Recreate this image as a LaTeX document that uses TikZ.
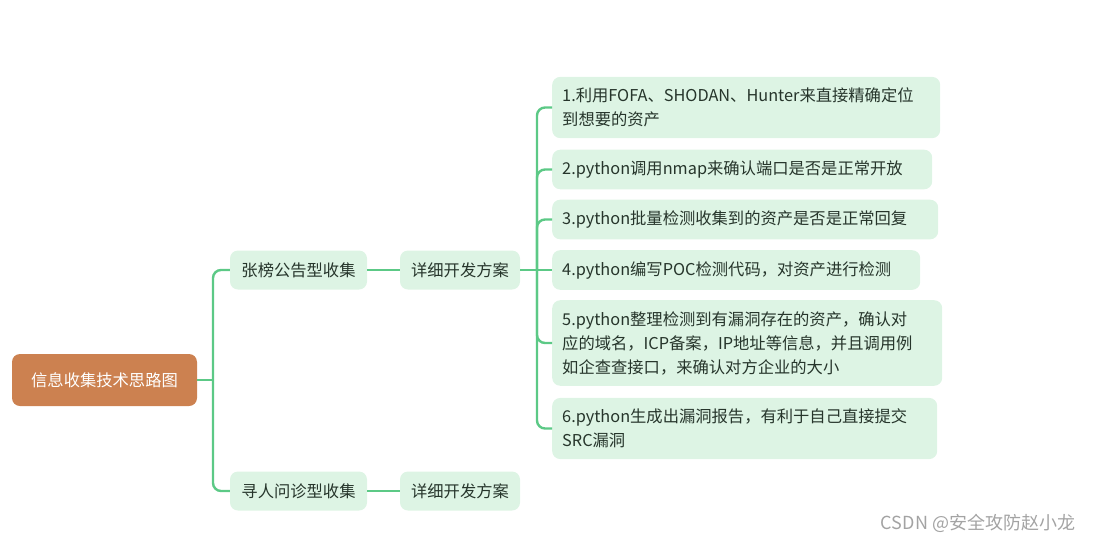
\documentclass[tikz,border=0pt]{standalone}
\usepackage{fontspec}
\setmainfont{Noto Sans CJK SC}
\usetikzlibrary{calc}
\definecolor{rootbrown}{HTML}{CC8150}
\definecolor{leafgreen}{HTML}{DDF4E4}
\definecolor{linkgreen}{HTML}{5CC986}
\definecolor{ink}{HTML}{26352B}
\definecolor{markgray}{HTML}{A3A3A3}
\newcommand{\mapfont}{\fontsize{16.3pt}{24pt}\selectfont}

\begin{document}
\begin{tikzpicture}[
    x=1pt, y=-1pt,
    every node/.style={font=\mapfont, align=center},
    link/.style={line width=2.4pt, linkgreen, rounded corners=8pt},
    % Root topic
    rootbox/.style={rectangle, rounded corners=8pt, fill=rootbrown, text=white,
                    minimum width=185pt, minimum height=52pt, inner sep=0pt},
    % Branch topics
    subbox/.style={rectangle, rounded corners=8pt, fill=leafgreen, text=ink,
                   minimum width=137pt, minimum height=39pt, inner sep=0pt},
    planbox/.style={subbox, minimum width=120pt},
    % Leaf topics
    leafbox/.style={rectangle, rounded corners=8pt, fill=leafgreen, text=ink,
                    anchor=west, align=left, minimum height=39pt,
                    inner xsep=10pt, inner ysep=11pt}
]
\useasboundingbox (0, 0) rectangle (1098, 542);

% ========== Root ==========
\node[rootbox] at (104.5, 380) (root) {信息收集技术思路图};

% ========== Level 1 ==========
\node[subbox] at (298.5, 270) (zhang) {张榜公告型收集};
\node[subbox] at (298.5, 491) (xun) {寻人问诊型收集};

% ========== Level 2 ==========
\node[planbox] at (460, 270) (plana) {详细开发方案};
\node[planbox] at (460, 491) (planb) {详细开发方案};

% ========== Leaves ==========
\node[leafbox, text width=368pt] at (552, 107.5) (leafa)
    {1.利用FOFA、SHODAN、Hunter来直接精确定位\\到想要的资产};
\node[leafbox, text width=360pt] at (552, 169.5) (leafb)
    {2.python调用nmap来确认端口是否是正常开放};
\node[leafbox, text width=366pt] at (552, 219.5) (leafc)
    {3.python批量检测收集到的资产是否是正常回复};
\node[leafbox, text width=348pt] at (552, 270) (leafd)
    {4.python编写POC检测代码，对资产进行检测};
\node[leafbox, text width=370pt] at (552, 343) (leafe)
    {5.python整理检测到有漏洞存在的资产，确认对\\应的域名，ICP备案，IP地址等信息，并且调用例\\如企查查接口，来确认对方企业的大小};
\node[leafbox, text width=365pt] at (552, 428.5) (leaff)
    {6.python生成出漏洞报告，有利于自己直接提交\\SRC漏洞};

% ========== Watermark ==========
\node[font=\fontsize{18pt}{20pt}\selectfont, text=markgray] at (978, 523) (mark)
    {CSDN @安全攻防赵小龙};

% ========== Links ==========
\coordinate (hubroot) at (213, 380);
\coordinate (hubplan) at (537, 270);

% --- root -> level 1 ---
\draw[link] (root.east) -- (hubroot);
\draw[link] (hubroot) |- (zhang.west);
\draw[link] (hubroot) |- (xun.west);

% --- level 1 -> level 2 ---
\draw[link] (zhang.east) -- (plana.west);
\draw[link] (xun.east) -- (planb.west);

% --- level 2 -> leaves ---
\draw[link] (plana.east) -- (leafd.west);
\draw[link] (hubplan) |- (leafa.west);
\draw[link] (hubplan) |- (leafb.west);
\draw[link] (hubplan) |- (leafc.west);
\draw[link] (hubplan) |- (leafe.west);
\draw[link] (hubplan) |- (leaff.west);

\end{tikzpicture}
\end{document}
